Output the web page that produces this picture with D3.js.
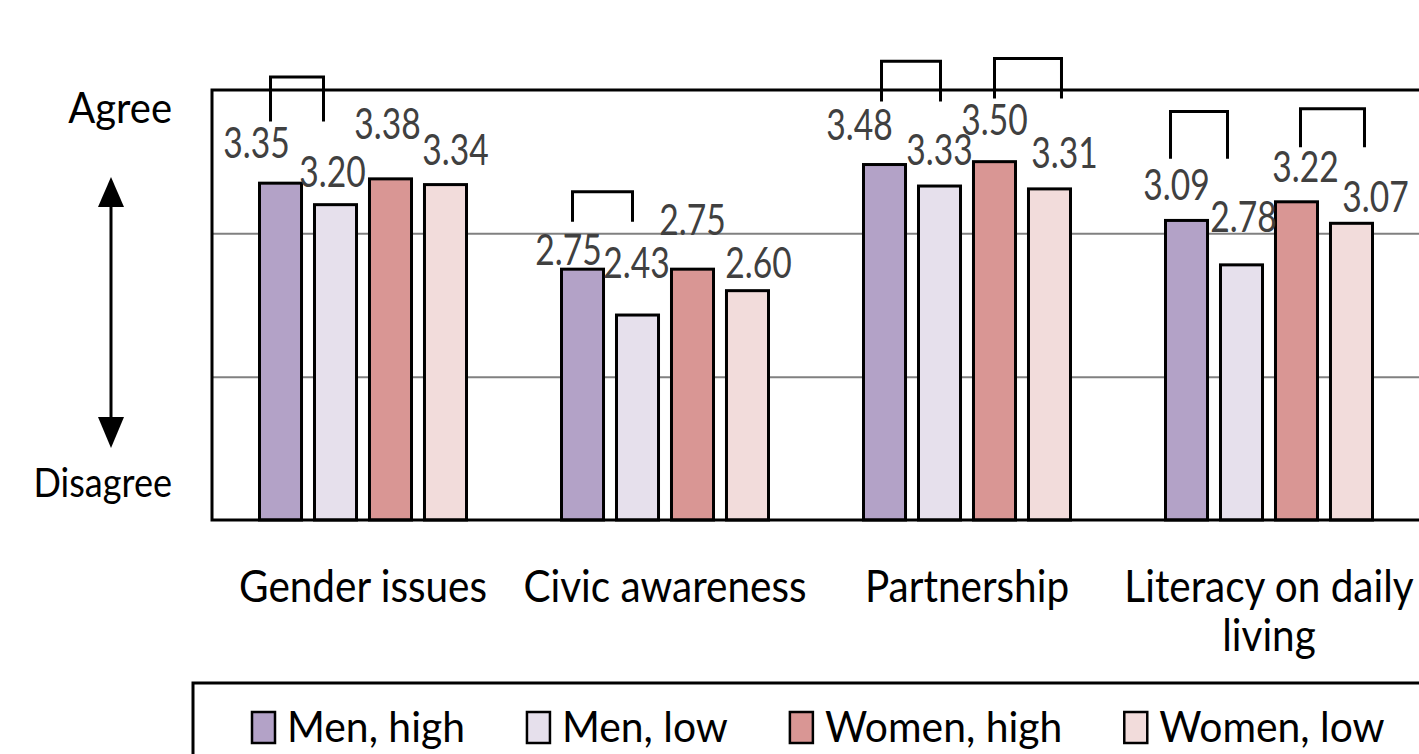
<!DOCTYPE html>
<html>
<head>
<meta charset="utf-8">
<script src="https://cdn.jsdelivr.net/npm/d3@7"></script>
<style>
  html, body { margin: 0; padding: 0; background: #fff; }
  svg { display: block; font-family: Lato, "Open Sans", sans-serif; }
</style>
</head>
<body>
<div id="chart"></div>
<script>
// Chart data
const categories = ["Gender issues", "Civic awareness", "Partnership", "Literacy on daily living"];
const series = ["Men, high", "Men, low", "Women, high", "Women, low"];
const menHigh   = [3.35, 2.75, 3.48, 3.09];
const menLow    = [3.20, 2.43, 3.33, 2.78];
const womenHigh = [3.38, 2.75, 3.50, 3.22];
const womenLow  = [3.34, 2.60, 3.31, 3.07];
const colors = ["#b3a2c7", "#e6e0ec", "#d99694", "#f2dcdb"];

// significance brackets: category, pair of series
const brackets = [
    { cat: "Gender issues", a: 0, b: 1 },
    { cat: "Civic awareness", a: 0, b: 1 },
    { cat: "Partnership", a: 0, b: 1 },
    { cat: "Partnership", a: 2, b: 3 },
    { cat: "Literacy on daily living", a: 0, b: 1 },
    { cat: "Literacy on daily living", a: 2, b: 3 }
];

// hand placed annotations of the original (layout only)
const bracketLegs = [[-10, -12], [-10, -5], [-3, 1], [0, 12], [-16, -14], [4, 13]];
const bracketLevels = [[4.09, 3.78], [3.29, 3.08], [4.20, 3.92], [4.22, 3.94], [3.85, 3.52], [3.87, 3.60]];
const labelNudge = [
    [[-24, 25], [-3, 18], [-3, 40], [10, 20]],
    [[-14, 4], [-1, 37], [0, 34], [11, 13]],
    [[-25, 25], [0, 21], [0, 27], [15, 21]],
    [[-10, 20], [2, 33], [9, 20], [24, 11]]
];

const values = [menHigh, menLow, womenHigh, womenLow];
const rows = categories.map((c, i) => ({ cat: c, i: i, vals: series.map((s, j) => ({ s: s, j: j, v: values[j][i] })) }));

const W = 1419, H = 754;
const svg = d3.select("#chart").append("svg").attr("width", W).attr("height", H);

const x0 = d3.scaleBand().domain(categories).range([212, 1420]);
const x1 = d3.scaleBand().domain(series).range([0, 207]).paddingInner(0.236);
const inset = (x0.bandwidth() - 207) / 2;
const y = d3.scaleLinear().domain([1, 4]).range([520, 90]);

function barX(cat, j) { return x0(cat) + inset + x1(series[j]); }

// squeezed text helper (original font is narrower than Lato)
function txt(parent, x, yy, str, size, k, anchor, fill) {
    return parent.append("text")
        .attr("transform", `translate(${x},${yy}) scale(${k},1)`)
        .attr("text-anchor", anchor)
        .attr("font-size", size)
        .attr("fill", fill || "#000")
        .text(str);
}

// gridlines
svg.append("g")
    .attr("transform", "translate(212,0)")
    .call(d3.axisLeft(y).tickValues([2, 3]).tickSize(-1300).tickFormat(""))
    .call(g => g.select(".domain").remove())
    .call(g => g.selectAll("line").attr("stroke", "#808080").attr("stroke-width", 2));

// bars
const groups = svg.append("g").selectAll("g").data(rows).enter().append("g");
groups.selectAll("rect")
    .data(d => d.vals.map(v => Object.assign({ cat: d.cat, i: d.i }, v)))
    .enter().append("rect")
    .attr("x", d => barX(d.cat, d.j))
    .attr("y", d => y(d.v))
    .attr("width", x1.bandwidth())
    .attr("height", d => y(1) - y(d.v))
    .attr("fill", d => colors[d.j])
    .attr("stroke", "#000")
    .attr("stroke-width", 3);

// frame
svg.append("rect")
    .attr("x", 212).attr("y", y(4))
    .attr("width", 1300).attr("height", y(1) - y(4))
    .attr("fill", "none").attr("stroke", "#000").attr("stroke-width", 3);

// value labels
rows.forEach(r => {
    r.vals.forEach(d => {
        const n = labelNudge[r.i][d.j];
        txt(svg, barX(r.cat, d.j) + x1.bandwidth() / 2 + n[0], y(d.v) - n[1], d.v.toFixed(2), 42, 0.8, "middle", "#404040");
    });
});

// brackets
brackets.forEach((b, i) => {
    const xa = barX(b.cat, b.a) + x1.bandwidth() / 2 + bracketLegs[i][0];
    const xb = barX(b.cat, b.b) + x1.bandwidth() / 2 + bracketLegs[i][1];
    const top = y(bracketLevels[i][0]), bot = y(bracketLevels[i][1]);
    svg.append("path")
        .attr("d", `M${xa},${bot}V${top}H${xb}V${bot}`)
        .attr("fill", "none").attr("stroke", "#000").attr("stroke-width", 3);
});

// category labels
const catLines = { "Literacy on daily living": ["Literacy on daily", "living"] };
categories.forEach(c => {
    const lines = catLines[c] || [c];
    lines.forEach((l, k) => {
        txt(svg, x0(c) + x0.bandwidth() / 2, 602 + k * 49, l, 45, 0.9, "middle");
    });
});

// agree / disagree axis
txt(svg, 172, 123, "Agree", 43, 0.93, "end");
txt(svg, 172, 497, "Disagree", 41, 0.88, "end");
svg.append("line").attr("x1", 111).attr("x2", 111).attr("y1", 200).attr("y2", 425)
    .attr("stroke", "#000").attr("stroke-width", 3);
svg.append("path").attr("d", "M111,177L124,207L98,207Z").attr("fill", "#000");
svg.append("path").attr("d", "M111,448L124,417L98,417Z").attr("fill", "#000");

// legend
const legend = svg.append("g");
legend.append("rect").attr("x", 193).attr("y", 683).attr("width", 1300).attr("height", 120)
    .attr("fill", "none").attr("stroke", "#000").attr("stroke-width", 3);
let lx = 252;
series.forEach((s, j) => {
    legend.append("rect").attr("x", lx).attr("y", 712).attr("width", 23).attr("height", 31)
        .attr("fill", colors[j]).attr("stroke", "#000").attr("stroke-width", 2.5);
    const t = txt(legend, lx + 35, 742, s, 43, 0.95, "start");
    const w = t.node().getComputedTextLength() * 0.95;
    lx += 35 + w + 62;
});
</script>
</body>
</html>
